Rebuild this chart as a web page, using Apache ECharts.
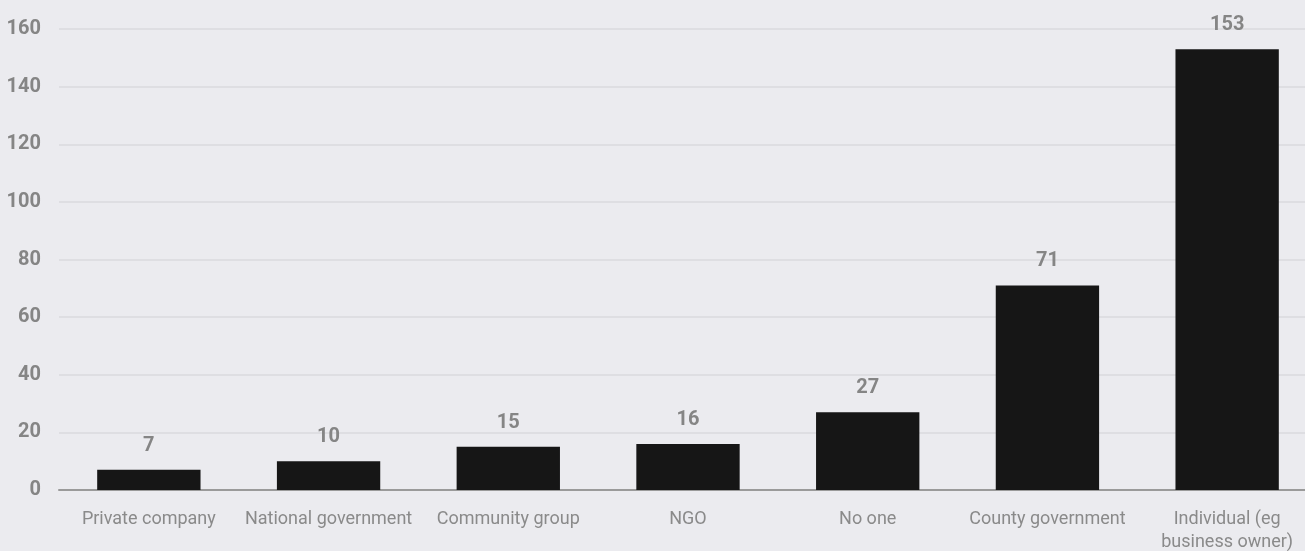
<!DOCTYPE html>
<html><head><meta charset="utf-8">
<script src="https://cdn.jsdelivr.net/npm/echarts@6/dist/echarts.min.js"></script>
<style>html,body{margin:0;padding:0;background:#ebebef;overflow:hidden;width:1305px;height:551px;}#c{width:1317px;height:551px;}</style>
</head><body><div id="c"></div>
<script>
const categories = ["Private company","National government","Community group","NGO","No one","County government","Individual (eg\nbusiness owner)"];
const values = [7,10,15,16,27,71,153];
const yTicks = {min:0, max:160, interval:20};
const FONT = 'Roboto, "Open Sans", sans-serif';
const chart = echarts.init(document.getElementById('c'));
chart.setOption({
  backgroundColor:'#ebebef',
  animation:false,
  grid:{left:59,right:0,top:29,bottom:61,outerBoundsMode:'none',containLabel:false},
  xAxis:{type:'category',data:categories,
    axisLine:{lineStyle:{color:'#9a9a9a',width:2}},
    axisTick:{show:false},
    axisLabel:{color:'#8a8a8a',fontSize:18,fontFamily:FONT,margin:18,interval:0,lineHeight:23}},
  yAxis:{type:'value',min:yTicks.min,max:yTicks.max,interval:yTicks.interval,
    axisLine:{show:false},axisTick:{show:false},
    splitLine:{lineStyle:{color:'#dadade',width:1.5}},
    axisLabel:{color:'#858585',fontSize:20,fontWeight:'bold',fontFamily:FONT,margin:18}},
  series:[{type:'bar',data:values,barWidth:'57.5%',itemStyle:{color:'#161616'},
    label:{show:true,position:'top',distance:14,color:'#858585',fontSize:20,fontWeight:'bold',fontFamily:FONT}}]
});
</script></body></html>
